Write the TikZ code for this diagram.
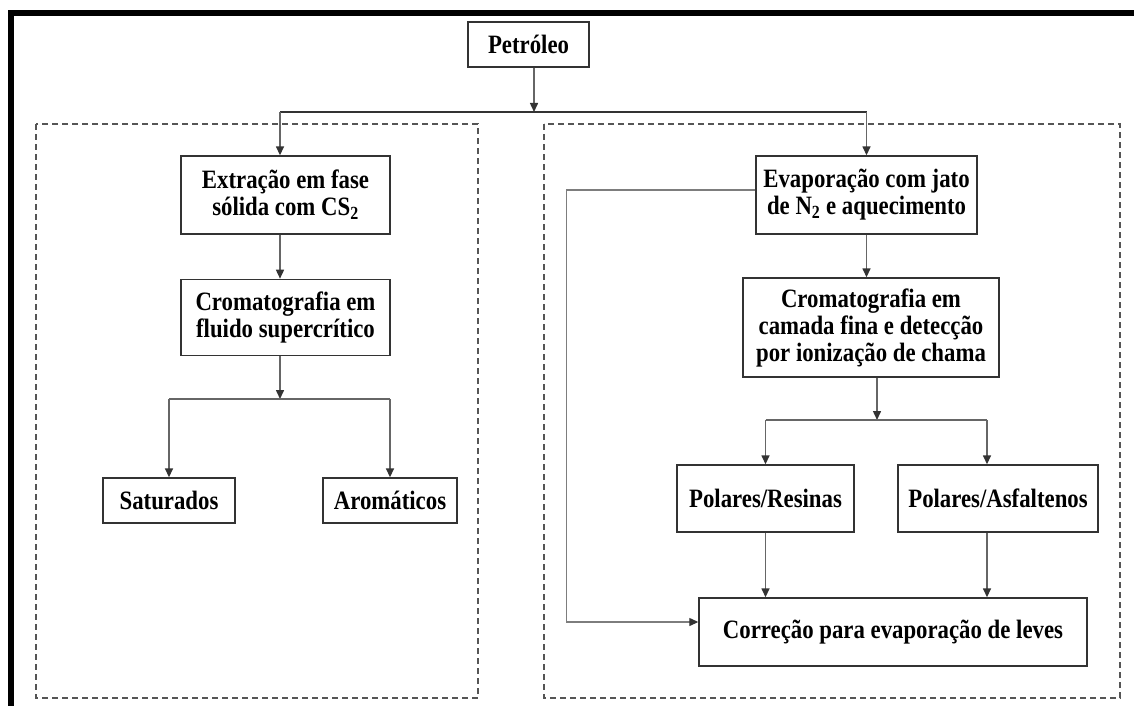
\documentclass[tikz,border=0pt]{standalone}
\usepackage{fontspec}
\setmainfont[FakeStretch=0.86]{Liberation Serif}
\usetikzlibrary{arrows.meta,positioning,calc}
\definecolor{FlowDark}{HTML}{333333}
\definecolor{FlowGray}{HTML}{666666}
\definecolor{FrameGray}{HTML}{555555}
\tikzset{
  procbox/.style={draw=FlowDark,line width=1.4pt,align=center,inner sep=2pt,font=\fontsize{26.5}{27}\selectfont\bfseries,fill=white},
  flowarrow/.style={-{Triangle[length=9pt,width=8pt,color=FlowDark]},line width=1.5pt,draw=FlowGray},
  splitline/.style={line width=1.5pt,draw=FlowGray},
  mainbar/.style={line width=2pt,draw=FlowDark},
  feedline/.style={-{Triangle[length=9pt,width=8pt,color=FlowDark]},line width=1.2pt,draw=FlowGray!85},
  groupframe/.style={draw=FrameGray,line width=1.1pt,dash pattern=on 6pt off 4pt}
}

\begin{document}
\begin{tikzpicture}[x=1pt,y=-1pt]
\useasboundingbox (0,0) rectangle (1134,706);
% page frame and dashed groups
\draw[line width=6pt,line join=miter] (11,706) -- (11,13) -- (1134,13);
\draw[groupframe] (36,124) rectangle (478,698);
\draw[groupframe] (544,124) rectangle (1120,698);

% Source
\node[procbox,minimum width=121pt,minimum height=45pt] (pet) at (528.5,44.5) {Petróleo};
\coordinate (topsplit) at (534,112);
\coordinate (lspine) at (280,112);

% Left lane: CS2 extraction + SFC
\node[procbox,minimum width=209pt,minimum height=78pt] (ext) at (285.5,195) {Extração em fase\\sólida com CS\textsubscript{2}};
\node[procbox,below=44pt of ext,minimum width=209pt,minimum height=76pt] (sfc) {Cromatografia em\\fluido supercrítico};
\node[procbox,minimum width=132pt,minimum height=45pt] (sat) at (169,500.5) {Saturados};
\node[procbox,minimum width=134pt,minimum height=45pt] (aro) at (390,500.5) {Aromáticos};
\coordinate (lsplit) at (280,399);

% Right lane: evaporation + TLC-FID
\node[procbox,minimum width=221pt,minimum height=78pt] (evap) at (866.5,195) {Evaporação com jato\\de N\textsubscript{2} e aquecimento};
\node[procbox,minimum width=256pt,minimum height=99pt] (tlc) at (871,327.5) {Cromatografia em\\camada fina e detecção\\por ionização de chama};
\node[procbox,minimum width=177pt,minimum height=67pt] (res) at (765.5,498.5) {Polares/Resinas};
\node[procbox,minimum width=200pt,minimum height=67pt] (asf) at (998,498.5) {Polares/Asfaltenos};
\node[procbox,minimum width=388pt,minimum height=68pt] (corr) at (893,632) {Correção para evaporação de leves};
\coordinate (rsplit) at (877,420);
\coordinate (asfcol) at (987,420);

% connectors
\draw[flowarrow] (pet.south -| topsplit) -- (topsplit);
\draw[mainbar] (lspine) -- (evap.north |- topsplit);
\draw[flowarrow] (lspine) -- (lspine |- ext.north);
\draw[flowarrow] (evap.north |- topsplit) -- (evap.north);
\draw[flowarrow] (lspine |- ext.south) -- (lspine |- sfc.north);
\draw[flowarrow] (lspine |- sfc.south) -- (lsplit);
\draw[splitline] (sat.north |- lsplit) -- (aro.north |- lsplit);
\draw[flowarrow] (sat.north |- lsplit) -- (sat.north);
\draw[flowarrow] (aro.north |- lsplit) -- (aro.north);

\draw[flowarrow] (evap.south) -- (evap.south |- tlc.north);
\draw[flowarrow] (tlc.south -| rsplit) -- (rsplit);
\draw[splitline] (res.north |- rsplit) -- (asfcol);
\draw[flowarrow] (res.north |- rsplit) -- (res.north);
\draw[flowarrow] (asfcol) -- (asfcol |- asf.north);
\draw[flowarrow] (res.south) -- (res.south |- corr.north);
\draw[flowarrow] (asfcol |- asf.south) -- (asfcol |- corr.north);
\draw[feedline] ([yshift=5pt]evap.west) -- ++(-189,0) |- ([yshift=10pt]corr.west);
\end{tikzpicture}
\end{document}
